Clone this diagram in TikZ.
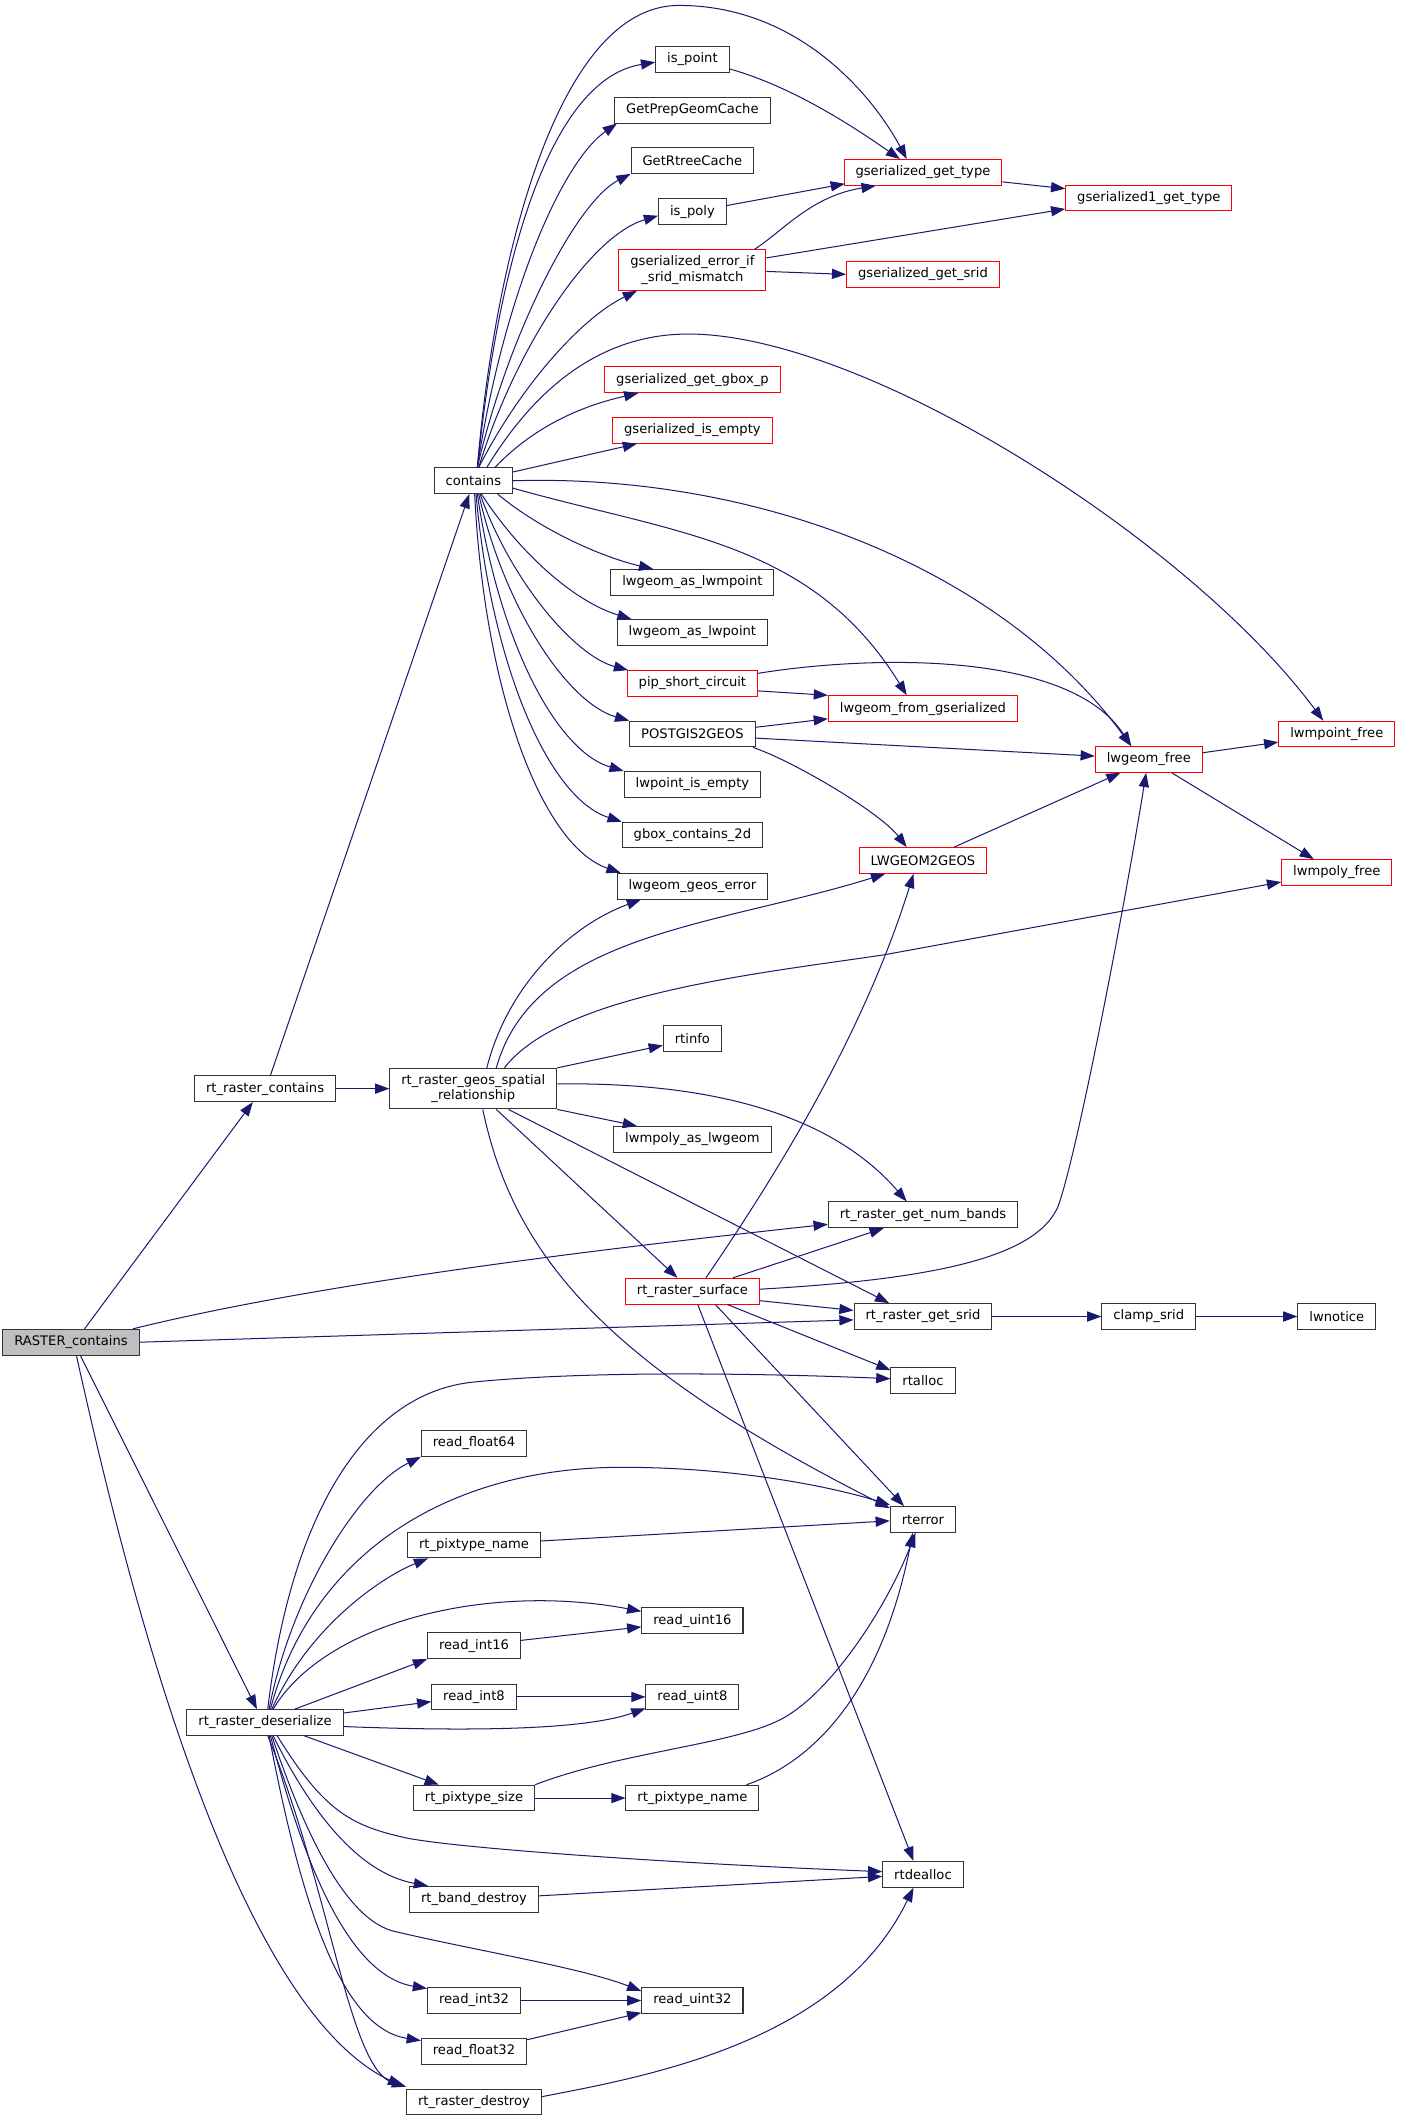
\documentclass[tikz,border=0pt]{standalone}
\usepackage{fontspec}
\newfontfamily\dejavu{DejaVu Sans}
\usetikzlibrary{arrows.meta}
\definecolor{edgeblue}{HTML}{191970}
\definecolor{boxred}{HTML}{FF0000}
\definecolor{rootgray}{HTML}{BFBFBF}
\definecolor{boxline}{HTML}{333333}
\begin{document}
\begin{tikzpicture}[x=1pt,y=-1pt,
 box/.style={draw=boxline, line width=0.75pt, fill=white, minimum height=19pt, inner xsep=8.5pt, inner ysep=0pt, font=\dejavu\fontsize{9.7}{11.3}\selectfont},
 rbox/.style={box, draw=boxred},
 two/.style={align=center, minimum height=30pt},
 edge/.style={draw=edgeblue, line width=0.75pt, -{Triangle[length=10.5pt,width=7.5pt]}}]
\useasboundingbox (0,0) rectangle (1036,1568.4);
% column 1-2
\node[box, fill=rootgray] (RC) at (52.5,992.5) {RASTER\_contains};
\node[box] (rrc) at (196,805) {rt\_raster\_contains};
\node[box] (rrd) at (196,1273.7) {rt\_raster\_deserialize};
\node[box] (cont) at (350,355.5) {contains};
\node[box,two] (rgsr) at (350,805) {rt\_raster\_geos\_spatial\\\_relationship};
% column 3
\node[box] (ispt) at (512,44) {is\_point};
\node[box] (gpgc) at (512,81.5) {GetPrepGeomCache};
\node[box] (grc) at (512,118.7) {GetRtreeCache};
\node[box] (ispoly) at (512,156.5) {is\_poly};
\node[rbox,two] (geism) at (512,199.7) {gserialized\_error\_if\\\_srid\_mismatch};
\node[rbox] (ggbox) at (512,280.8) {gserialized\_get\_gbox\_p};
\node[rbox] (gisempty) at (512,318.2) {gserialized\_is\_empty};
\node[box] (lwasmp) at (512,430.6) {lwgeom\_as\_lwmpoint};
\node[box] (lwaslp) at (512,467.7) {lwgeom\_as\_lwpoint};
\node[rbox] (pipsc) at (512,505.4) {pip\_short\_circuit};
\node[box] (pg2g) at (512,542.8) {POSTGIS2GEOS};
\node[box] (lwpie) at (512,580) {lwpoint\_is\_empty};
\node[box] (gbc2d) at (512,617.5) {gbox\_contains\_2d};
\node[box] (lwge) at (512,655.3) {lwgeom\_geos\_error};
\node[box] (rtinfo) at (512,768) {rtinfo};
\node[box] (lwmpaslg) at (512,842.5) {lwmpoly\_as\_lwgeom};
\node[rbox] (rrsurf) at (512,954.8) {rt\_raster\_surface};
\node[box] (rf64) at (350.5,1067.4) {read\_float64};
\node[box] (pxname1) at (350.5,1142.5) {rt\_pixtype\_name};
\node[box] (ri16) at (350.5,1217) {read\_int16};
\node[box] (ri8) at (350.5,1254.8) {read\_int8};
\node[box] (pxsize) at (350.5,1329.6) {rt\_pixtype\_size};
\node[box] (banddes) at (350.5,1404.4) {rt\_band\_destroy};
\node[box] (ri32) at (350.5,1479.3) {read\_int32};
\node[box] (rf32) at (350.5,1516.8) {read\_float32};
\node[box] (rdestroy) at (350.5,1554.4) {rt\_raster\_destroy};
\node[box] (ru16) at (512,1198.5) {read\_uint16};
\node[box] (ru8) at (512,1254.8) {read\_uint8};
\node[box] (pxname2) at (512,1329.6) {rt\_pixtype\_name};
\node[box] (ru32) at (512,1479.3) {read\_uint32};
% column 4
\node[rbox] (ggtype) at (682.5,127.5) {gserialized\_get\_type};
\node[rbox] (ggsrid) at (682.5,202.9) {gserialized\_get\_srid};
\node[rbox] (lwfromg) at (682.5,524) {lwgeom\_from\_gserialized};
\node[rbox] (lw2geos) at (682.5,636.3) {LWGEOM2GEOS};
\node[box] (numbands) at (682.5,898.3) {rt\_raster\_get\_num\_bands};
\node[box] (getsrid) at (682.5,973.5) {rt\_raster\_get\_srid};
\node[box] (rtalloc) at (682.5,1021) {rtalloc};
\node[box] (rterror) at (682.5,1123.6) {rterror};
\node[box] (rtdealloc) at (682.5,1386) {rtdealloc};
% column 5-6
\node[rbox] (g1type) at (849.5,146.5) {gserialized1\_get\_type};
\node[rbox] (lwfree) at (849.5,561.6) {lwgeom\_free};
\node[box] (clamp) at (849.5,973.5) {clamp\_srid};
\node[rbox] (lwmpfree) at (988.5,542.8) {lwmpoint\_free};
\node[rbox] (lwmpolyfree) at (988.5,645.2) {lwmpoly\_free};
\node[box] (lwnotice) at (988.5,973.5) {lwnotice};

% RASTER_contains
\draw[edge] ([xshift=10pt]RC.north) -- ([xshift=-9pt]rrc.south);
\draw[edge] ([xshift=-5pt]RC.north east) .. controls (230,950) and (430,925) .. ([yshift=-7pt]numbands.west);
\draw[edge] (RC.east) -- ([yshift=-2.5pt]getsrid.west);
\draw[edge] ([xshift=7pt]RC.south) -- ([xshift=-6pt]rrd.north);
\draw[edge] ([xshift=4pt]RC.south) .. controls (85,1130) and (165,1480) .. ([xshift=-3pt,yshift=2pt]rdestroy.north west);
% rt_raster_contains
\draw[edge] ([xshift=4pt]rrc.north) -- ([xshift=-3pt]cont.south);
\draw[edge] (rrc.east) -- (rgsr.west);
% contains
\draw[edge] ([xshift=3pt]cont.north) .. controls (365,200) and (410,4) .. (502,4) .. controls (590,4) and (645,70) .. ([xshift=-12pt]ggtype.north);
\draw[edge] ([xshift=3pt]cont.north) .. controls (370,180) and (410,58) .. ([yshift=-2pt]ispt.west);
\draw[edge] ([xshift=3pt]cont.north) .. controls (372,220) and (415,120) .. ([xshift=2pt]gpgc.south west);
\draw[edge] ([xshift=3pt]cont.north) .. controls (375,250) and (425,150) .. (grc.south west);
\draw[edge] ([xshift=4pt]cont.north) .. controls (380,260) and (435,175) .. ([yshift=-3pt]ispoly.west);
\draw[edge] ([xshift=4pt]cont.north) .. controls (385,285) and (430,235) .. ([xshift=-41pt]geism.south);
\draw[edge] ([xshift=16pt]cont.north) .. controls (400,310) and (440,298) .. ([xshift=-40pt]ggbox.south);
\draw[edge] ([yshift=6.5pt]cont.east) -- ([xshift=-41pt]gisempty.south);
\draw[edge] ([xshift=10pt]cont.north) .. controls (400,280) and (450,247) .. (509,247) .. controls (640,247) and (880,400) .. ([xshift=-10pt]lwmpfree.north);
\draw[edge] (cont.east) .. controls (560,350) and (740,420) .. ([xshift=-13pt]lwfree.north);
\draw[edge] ([yshift=-5.5pt]cont.east) .. controls (500,395) and (600,400) .. ([xshift=-12pt]lwfromg.north);
\draw[edge] ([xshift=18pt]cont.south) .. controls (400,392) and (445,412) .. ([xshift=-29pt]lwasmp.north);
\draw[edge] ([xshift=6pt]cont.south) .. controls (385,410) and (425,445) .. ([xshift=-45pt]lwaslp.north);
\draw[edge] ([xshift=5pt]cont.south) .. controls (378,430) and (425,485) .. ([xshift=1pt]pipsc.north west);
\draw[edge] ([xshift=4pt]cont.south) .. controls (373,450) and (420,520) .. (pg2g.north west);
\draw[edge] ([xshift=3pt]cont.south) .. controls (368,470) and (410,555) .. (lwpie.north west);
\draw[edge] ([xshift=2pt]cont.south) .. controls (363,490) and (405,590) .. (gbc2d.north west);
\draw[edge] ([xshift=1pt]cont.south) .. controls (358,510) and (400,625) .. ([xshift=3pt]lwge.north west);
% upper right
\draw[edge] ([yshift=-7pt]ispt.east) .. controls (590,65) and (640,100) .. ([xshift=-17pt]ggtype.north);
\draw[edge] ([yshift=4.5pt]ispoly.east) -- ([xshift=1pt,yshift=1.5pt]ggtype.south west);
\draw[edge] ([yshift=-7pt]ggtype.east) -- ([yshift=7pt]g1type.west);
\draw[edge] ([xshift=46pt]geism.north) .. controls (580,170) and (600,145) .. ([xshift=-35pt]ggtype.south);
\draw[edge] ([yshift=9pt]geism.east) -- ([yshift=-8pt]g1type.west);
\draw[edge] ([yshift=-1pt]geism.east) -- (ggsrid.west);
\draw[edge] ([yshift=-5.5pt]pipsc.east) -- (lwfromg.north west);
\draw[edge] ([yshift=7.5pt]pipsc.east) .. controls (640,485) and (790,480) .. ([xshift=-13pt]lwfree.north);
\draw[edge] ([yshift=5pt]pg2g.east) -- ([yshift=-7.5pt]lwfromg.west);
\draw[edge] ([yshift=-3pt]pg2g.east) -- ([yshift=2.5pt]lwfree.west);
\draw[edge] ([xshift=-2pt]pg2g.south east) .. controls (585,562) and (650,600) .. ([xshift=-12pt]lw2geos.north);
\draw[edge] ([xshift=23pt]lw2geos.north) -- ([xshift=-21pt]lwfree.south);
\draw[edge] ([yshift=5pt]lwfree.east) -- ([yshift=-6pt]lwmpfree.west);
\draw[edge] ([xshift=17pt]lwfree.south) -- ([xshift=-17pt]lwmpolyfree.north);
% rt_raster_geos_spatial_relationship
\draw[edge] ([xshift=10pt]rgsr.north) .. controls (375,730) and (420,685) .. ([xshift=-38pt]lwge.south);
\draw[edge] ([xshift=17pt]rgsr.north) .. controls (395,690) and (530,685) .. ([xshift=-28pt]lw2geos.south);
\draw[edge] ([xshift=23pt]rgsr.north) .. controls (415,735) and (560,720) .. (654,706) -- ([yshift=-7pt]lwmpolyfree.west);
\draw[edge] (rgsr.north east) -- ([yshift=-5pt]rtinfo.west);
\draw[edge] ([yshift=3.5pt]rgsr.east) .. controls (540,800) and (620,830) .. ([xshift=-12pt]numbands.north);
\draw[edge] (rgsr.south east) -- ([xshift=-41pt]lwmpaslg.north);
\draw[edge] ([xshift=17pt]rgsr.south) -- ([xshift=-11pt]rrsurf.north);
\draw[edge] ([xshift=26pt]rgsr.south) -- ([xshift=-25pt]getsrid.north);
\draw[edge] ([xshift=7pt]rgsr.south) .. controls (380,930) and (450,1010) .. ([yshift=-1.5pt]rterror.north west);
% rt_raster_surface
\draw[edge] ([xshift=10pt]rrsurf.north) .. controls (580,860) and (640,760) .. ([xshift=-7pt]lw2geos.south);
\draw[edge] ([xshift=30pt]rrsurf.north) -- ([xshift=-29pt]numbands.south);
\draw[edge] ([yshift=1.5pt]rrsurf.east) .. controls (690,946) and (765,930) .. (782,893) .. controls (795,860) and (830,680) .. ([xshift=-2pt]lwfree.south);
\draw[edge] ([yshift=-7pt]rrsurf.east) -- ([yshift=4.5pt]getsrid.west);
\draw[edge] ([xshift=26pt]rrsurf.south) -- ([yshift=-2pt]rtalloc.north west);
\draw[edge] ([xshift=17pt]rrsurf.south) -- ([xshift=-14pt]rterror.north);
\draw[edge] ([xshift=4pt]rrsurf.south) -- ([xshift=-7pt]rtdealloc.north);
\draw[edge] (getsrid.east) -- (clamp.west);
\draw[edge] (clamp.east) -- (lwnotice.west);
% rt_raster_deserialize
\draw[edge] ([xshift=2pt]rrd.north) .. controls (215,1120) and (270,1030) .. (350,1022) .. controls (450,1012) and (600,1017) .. ([yshift=1.5pt]rtalloc.west);
\draw[edge] ([xshift=3pt]rrd.north) .. controls (215,1180) and (265,1100) .. (rf64.south west);
\draw[edge] ([xshift=4pt]rrd.north) .. controls (230,1150) and (330,1085) .. (460,1085) .. controls (540,1085) and (610,1098) .. ([yshift=1pt]rterror.north west);
\draw[edge] ([xshift=5pt]rrd.north) .. controls (230,1200) and (285,1165) .. ([xshift=-34pt]pxname1.south);
\draw[edge] ([xshift=6pt]rrd.north) .. controls (240,1200) and (360,1170) .. ([yshift=7pt]ru16.west);
\draw[edge] ([xshift=22pt]rrd.north) -- (ri16.south west);
\draw[edge] ([yshift=7pt]rrd.east) -- ([yshift=-3.5pt]ri8.west);
\draw[edge] ([yshift=-3pt]rrd.east) .. controls (340,1280) and (430,1280) .. ([yshift=-8.5pt]ru8.west);
\draw[edge] ([xshift=29pt]rrd.south) -- ([xshift=-26pt]pxsize.north);
\draw[edge] ([xshift=9pt]rrd.south) .. controls (240,1340) and (260,1350) .. (300,1359) .. controls (340,1367) and (500,1378) .. ([yshift=2pt]rtdealloc.west);
\draw[edge] ([xshift=6pt]rrd.south) .. controls (230,1340) and (265,1385) .. ([xshift=-34pt]banddes.north);
\draw[edge] ([xshift=5pt]rrd.south) .. controls (230,1370) and (260,1420) .. (291,1428) .. controls (350,1442) and (430,1455) .. ([yshift=7pt]ru32.west);
\draw[edge] ([xshift=4pt]rrd.south) .. controls (230,1400) and (265,1462) .. ([yshift=-1pt]ri32.north west);
\draw[edge] ([xshift=3pt]rrd.south) .. controls (225,1420) and (255,1500) .. ([yshift=-2pt]rf32.north west);
\draw[edge] ([xshift=2pt]rrd.south) .. controls (245,1400) and (258,1530) .. ([yshift=1.5pt]rdestroy.north west);
% lower
\draw[edge] ([yshift=3pt]pxname1.east) -- ([yshift=-1pt]rterror.west);
\draw[edge] ([yshift=4pt]ri16.east) -- ([yshift=-4.5pt]ru16.west);
\draw[edge] (ri8.east) -- (ru8.west);
\draw[edge] (pxsize.north east) .. controls (460,1295) and (545,1290) .. (580,1270) .. controls (615,1250) and (655,1190) .. ([xshift=-5.5pt]rterror.south);
\draw[edge] (pxsize.east) -- (pxname2.west);
\draw[edge] ([xshift=40pt]pxname2.north) .. controls (595,1305) and (650,1260) .. ([xshift=-7.5pt]rterror.south);
\draw[edge] ([yshift=2.5pt]banddes.east) -- ([yshift=-1.5pt]rtdealloc.west);
\draw[edge] (ri32.east) -- (ru32.west);
\draw[edge] ([yshift=8.5pt]rf32.east) -- ([yshift=-9pt]ru32.west);
\draw[edge] ([yshift=4pt]rdestroy.east) .. controls (480,1535) and (620,1510) .. ([xshift=-7pt]rtdealloc.south);
\end{tikzpicture}
\end{document}
